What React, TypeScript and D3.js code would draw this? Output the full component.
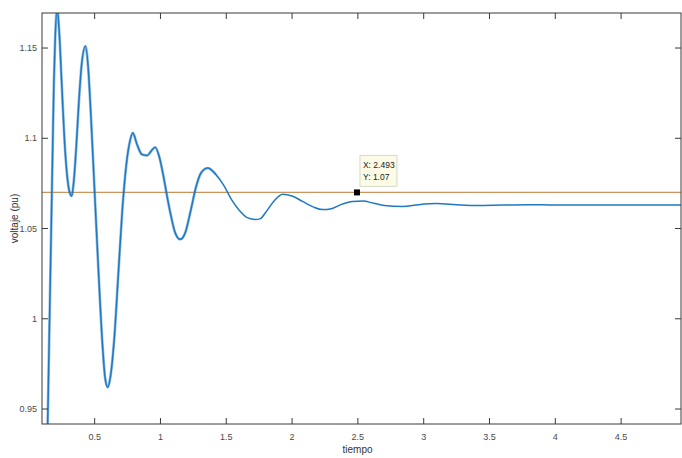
import React from "react";
import * as d3 from "d3";

const timeVals = [0.13, 0.14, 0.15, 0.16, 0.17, 0.18, 0.19, 0.2, 0.215, 0.23, 0.25, 0.27, 0.29, 0.31, 0.325, 0.34, 0.36, 0.38, 0.4, 0.43, 0.45, 0.47, 0.5, 0.53, 0.56, 0.58, 0.6, 0.62, 0.65, 0.68, 0.71, 0.74, 0.77, 0.79, 0.82, 0.86, 0.9, 0.93, 0.96, 0.99, 1.02, 1.05, 1.08, 1.11, 1.15, 1.19, 1.23, 1.27, 1.31, 1.36, 1.42, 1.48, 1.54, 1.6, 1.66, 1.72, 1.76, 1.8, 1.86, 1.93, 2.0, 2.08, 2.16, 2.23, 2.3, 2.38, 2.46, 2.54, 2.62, 2.7, 2.84, 2.96, 3.1, 3.25, 3.4, 3.6, 3.8, 4.0, 4.3, 4.6, 4.96];
const voltVals = [0.9, 0.93, 0.97, 1.01, 1.05, 1.09, 1.13, 1.155, 1.172, 1.16, 1.13, 1.1, 1.08, 1.07, 1.068, 1.075, 1.095, 1.12, 1.14, 1.151, 1.14, 1.115, 1.07, 1.025, 0.985, 0.967, 0.962, 0.968, 0.99, 1.025, 1.06, 1.085, 1.099, 1.103, 1.097, 1.091, 1.0905, 1.093, 1.095, 1.09, 1.08, 1.068, 1.057, 1.048, 1.044, 1.048, 1.06, 1.073, 1.081, 1.0835, 1.08, 1.074, 1.066, 1.06, 1.056, 1.055, 1.0555, 1.059, 1.065, 1.069, 1.068, 1.065, 1.062, 1.0605, 1.061, 1.0635, 1.065, 1.0652, 1.064, 1.0628, 1.0622, 1.0632, 1.0638, 1.0632, 1.0628, 1.063, 1.0632, 1.063, 1.063, 1.063, 1.063];
const refLevel = 1.07;
const tipX = 2.493;
const tipY = 1.07;
const xTicks = [0.5, 1, 1.5, 2, 2.5, 3, 3.5, 4, 4.5];
const xTickLabels = ["0.5", "1", "1.5", "2", "2.5", "3", "3.5", "4", "4.5"];
const yTicks = [0.95, 1, 1.05, 1.1, 1.15];
const yTickLabels = ["0.95", "1", "1.05", "1.1", "1.15"];

export default function App() {
  const W = 682, H = 458;
  const L = 42, R = 681, T = 13, B = 424;
  const x = d3.scaleLinear().domain([0.1, 4.955]).range([L, R]);
  const y = d3.scaleLinear().domain([0.9417, 1.1694]).range([B, T]);
  const data = timeVals.map((t, i) => [t, voltVals[i]] as [number, number]);
  const line = d3.line<[number, number]>().x(d => x(d[0])).y(d => y(d[1])).curve(d3.curveMonotoneX);
  const early = data.filter(d => d[0] <= 1.45);
  const font = "'Liberation Sans', Arial, sans-serif";
  const axisColor = "#3a3a3a";
  const txt = "#4a4a4a";
  return (
    <div style={{ position: "fixed", left: 0, top: 0, width: W, height: H, background: "#fff" }}>
      <svg width={W} height={H} style={{ display: "block" }}>
        <defs>
          <clipPath id="plotclip">
            <rect x={L} y={T} width={R - L} height={B - T} />
          </clipPath>
        </defs>
        <rect x={0} y={0} width={W} height={H} fill="#fff" />
        <g clipPath="url(#plotclip)">
          <line x1={L} x2={R} y1={y(refLevel)} y2={y(refLevel)} stroke="#c8955f" strokeWidth={1.2} />
          <path d={line(early) || ""} fill="none" stroke="#1f78c1" strokeWidth={2.8} strokeOpacity={0.45} />
          <path d={line(data) || ""} fill="none" stroke="#1f78c1" strokeWidth={1.5} />
        </g>
        <rect x={L} y={T} width={R - L} height={B - T} fill="none" stroke={axisColor} strokeWidth={1} />
        {xTicks.map((t, i) => (
          <g key={"xt" + i}>
            <line x1={x(t)} x2={x(t)} y1={B} y2={B - 6} stroke={axisColor} />
            <line x1={x(t)} x2={x(t)} y1={T} y2={T + 6} stroke={axisColor} />
            <text x={x(t)} y={B + 16} textAnchor="middle" fontFamily={font} fontSize={9} fill={txt}>{xTickLabels[i]}</text>
          </g>
        ))}
        {yTicks.map((t, i) => (
          <g key={"yt" + i}>
            <line x1={L} x2={L + 6} y1={y(t)} y2={y(t)} stroke={axisColor} />
            <line x1={R} x2={R - 6} y1={y(t)} y2={y(t)} stroke={axisColor} />
            <text x={L - 5} y={y(t) + 3} textAnchor="end" fontFamily={font} fontSize={9} fill={txt}>{yTickLabels[i]}</text>
          </g>
        ))}
        <text x={(L + R) / 2 - 4} y={B + 29} textAnchor="middle" fontFamily={font} fontSize={10} fill="#333">tiempo</text>
        <text transform={`translate(18,${(T + B) / 2}) rotate(-90)`} textAnchor="middle" fontFamily={font} fontSize={10} fill="#333">voltaje (pu)</text>
        <rect x={x(tipX) - 3} y={y(tipY) - 3} width={6} height={6} fill="#000" />
        <rect x={x(tipX) + 3} y={y(tipY) - 37} width={37} height={31} fill="#fbfbe6" stroke="#d8d8c8" strokeWidth={1} />
        <text x={x(tipX) + 6} y={y(tipY) - 24} fontFamily={font} fontSize={8.5} fill="#222">X: {tipX}</text>
        <text x={x(tipX) + 6} y={y(tipY) - 12} fontFamily={font} fontSize={8.5} fill="#222">Y: {tipY}</text>
      </svg>
    </div>
  );
}
